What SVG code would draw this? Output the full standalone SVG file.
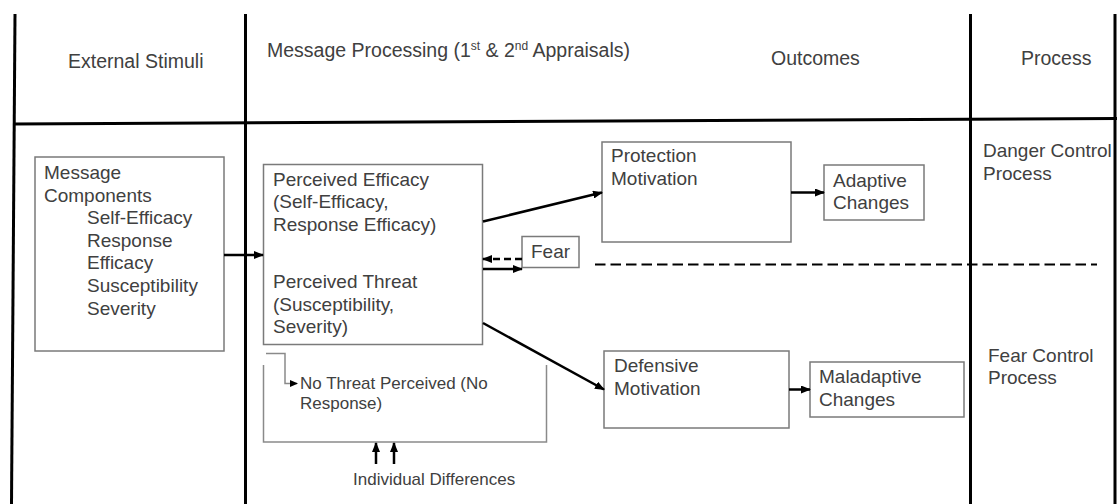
<svg xmlns="http://www.w3.org/2000/svg" width="1117" height="504" viewBox="0 0 1117 504">
<style>
  text { font-family: "Liberation Sans", Arial, sans-serif; fill: #404040; }
  .hd { font-size: 19.5px; }
  .tx { font-size: 19px; }
  .sm { font-size: 17px; }
  .grid { stroke: #000; stroke-width: 3; fill: none; }
  .box { fill: #fff; stroke: #7a7a7a; stroke-width: 1.5; }
  .thin { fill: none; stroke: #8a8a8a; stroke-width: 1.5; }
  .arr { stroke: #000; stroke-width: 2.5; fill: none; marker-end: url(#ah); }
  .dsh { stroke: #000; stroke-width: 2.5; fill: none; stroke-dasharray: 7 4; marker-end: url(#ah); }
  .sep { stroke: #000; stroke-width: 2; fill: none; stroke-dasharray: 10.5 5; }
</style>
<defs>
  <marker id="ah" markerUnits="userSpaceOnUse" markerWidth="10" markerHeight="8" refX="9" refY="4" orient="auto">
    <path d="M0,0 L10,4 L0,8 z" fill="#000"/>
  </marker>
  <marker id="ahs" markerUnits="userSpaceOnUse" markerWidth="8" markerHeight="7" refX="7" refY="3.5" orient="auto">
    <path d="M0,0 L8,3.5 L0,7 z" fill="#000"/>
  </marker>
</defs>
<rect width="1117" height="504" fill="#fff"/>

<g id="table">
  <line class="grid" x1="15" y1="14" x2="11.5" y2="504"/>
  <line class="grid" x1="245.5" y1="14" x2="245.5" y2="504"/>
  <line class="grid" x1="970.5" y1="14" x2="970.5" y2="504"/>
  <line class="grid" x1="1115" y1="14" x2="1115" y2="504"/>
  <line class="grid" x1="13" y1="124" x2="1117" y2="118.5"/>
  <text class="hd" x="68" y="68">External Stimuli</text>
  <text class="hd" x="267" y="57">Message Processing (1<tspan font-size="12" dy="-7">st</tspan><tspan dy="7"> &amp; 2</tspan><tspan font-size="12" dy="-7">nd</tspan><tspan dy="7"> Appraisals)</tspan></text>
  <text class="hd" x="771" y="65">Outcomes</text>
  <text class="hd" x="1021" y="65">Process</text>
  <text class="tx" x="983" y="157">Danger Control</text>
  <text class="tx" x="983" y="180">Process</text>
  <text class="tx" x="988" y="362">Fear Control</text>
  <text class="tx" x="988" y="384">Process</text>
</g>

<g id="message-components">
  <rect class="box" x="35" y="157" width="189" height="194"/>
  <text class="tx" x="44" y="179">Message</text>
  <text class="tx" x="44" y="202">Components</text>
  <text class="tx" x="87" y="224">Self-Efficacy</text>
  <text class="tx" x="87" y="247">Response</text>
  <text class="tx" x="87" y="269">Efficacy</text>
  <text class="tx" x="87" y="292">Susceptibility</text>
  <text class="tx" x="87" y="315">Severity</text>
</g>

<g id="perceived">
  <rect class="box" x="263.5" y="164.5" width="219" height="180"/>
  <text class="tx" x="273" y="186">Perceived Efficacy</text>
  <text class="tx" x="273" y="208">(Self-Efficacy,</text>
  <text class="tx" x="273" y="231">Response Efficacy)</text>
  <text class="tx" x="273" y="288">Perceived Threat</text>
  <text class="tx" x="273" y="311">(Susceptibility,</text>
  <text class="tx" x="273" y="333">Severity)</text>
</g>

<g id="fear">
  <rect class="box" x="522" y="236.5" width="57" height="31"/>
  <text class="tx" x="531" y="258">Fear</text>
</g>

<g id="protection-motivation">
  <rect class="box" x="602" y="142" width="189" height="100"/>
  <text class="tx" x="611" y="162">Protection</text>
  <text class="tx" x="611" y="185">Motivation</text>
</g>

<g id="adaptive-changes">
  <rect class="box" x="824" y="165" width="100" height="55"/>
  <text class="tx" x="833" y="187">Adaptive</text>
  <text class="tx" x="833" y="209">Changes</text>
</g>

<g id="defensive-motivation">
  <rect class="box" x="604" y="351" width="185" height="77"/>
  <text class="tx" x="614" y="372">Defensive</text>
  <text class="tx" x="614" y="395">Motivation</text>
</g>

<g id="maladaptive-changes">
  <rect class="box" x="810" y="362" width="154" height="55"/>
  <text class="tx" x="819" y="383">Maladaptive</text>
  <text class="tx" x="819" y="406">Changes</text>
</g>

<g id="no-threat">
  <polyline class="thin" points="263.5,365 263.5,442 546.5,442 546.5,365"/>
  <text class="sm" x="300" y="389">No Threat Perceived (No</text>
  <text class="sm" x="300" y="409">Response)</text>
</g>

<g id="individual-differences">
  <text class="sm" x="353" y="485">Individual Differences</text>
</g>

<g id="connectors">
  <line class="arr" x1="224" y1="255" x2="263" y2="255"/>
  <line class="dsh" x1="522" y1="259" x2="483" y2="259"/>
  <line class="arr" x1="483" y1="269" x2="522" y2="269"/>
  <line class="arr" x1="483" y1="221.5" x2="602" y2="192.5"/>
  <line class="arr" x1="791" y1="192.5" x2="824" y2="192.5"/>
  <line class="arr" x1="483" y1="323" x2="604" y2="389.5"/>
  <line class="arr" x1="789" y1="389.5" x2="810" y2="389.5"/>
  <polyline points="266,353.5 285,353.5 285,383.5 297,383.5" fill="none" stroke="#8a8a8a" stroke-width="1.5" marker-end="url(#ahs)"/>
  <line class="arr" x1="376" y1="464" x2="376" y2="443"/>
  <line class="arr" x1="394" y1="464" x2="394" y2="443"/>
  <line class="sep" x1="595" y1="264.5" x2="1097" y2="264.5"/>
</g>
</svg>
